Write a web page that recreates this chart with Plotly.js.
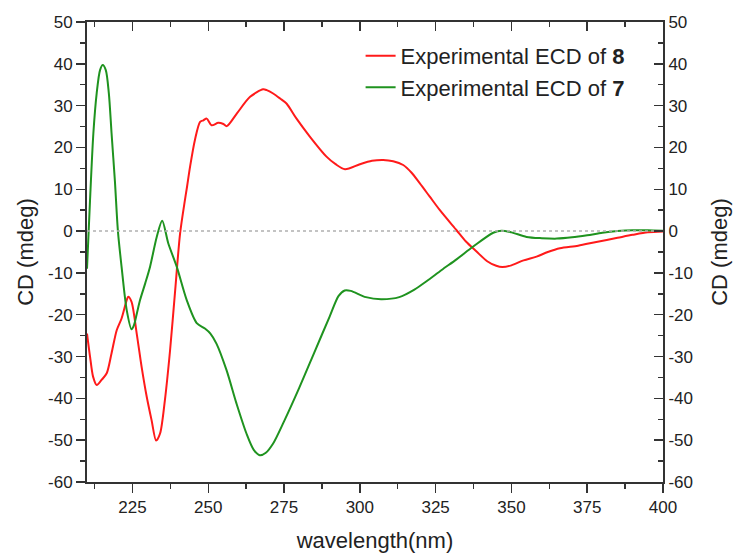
<!DOCTYPE html>
<html>
<head>
<meta charset="utf-8">
<script src="https://cdn.plot.ly/plotly-3.0.1.min.js"></script>
<style>html,body{margin:0;padding:0;background:#fff;}#chart{width:734px;height:554px;}</style>
</head>
<body>
<div id="chart"></div>
<script>
// Experimental ECD of 8 (red)
const wl8 = [210,211,212,213.2,214.8,216.5,218.1,219.8,221.4,223.1,223.6,224.7,226.4,228,229.7,231.3,232.8,234.1,235.7,237.4,239,240.7,242.3,243,244,245.6,247.3,248.4,249.5,251.1,253.3,255,256.1,259.4,263.8,268.1,269.3,271.4,273.7,275.8,279,283.5,289,292,295.1,300,304,307.7,311,314.3,317,319.8,323,326.4,331.9,335,338.5,342,345,347,350,354,358.3,362,366,372,378,385,390,395,400];
const cd8 = [-24.5,-30,-34.8,-36.8,-35.6,-34,-29.2,-23.7,-20.9,-16.5,-15.7,-16.9,-24.5,-32.4,-39.6,-45.2,-50.1,-48.4,-40.4,-28.5,-14.9,-0.6,7.4,10.6,15.4,21.8,26.1,26.5,26.9,25.3,25.9,25.6,25.1,28.1,32.1,33.9,33.7,32.9,31.7,30.5,27,22.6,17.8,16,14.8,16,16.8,17,16.7,15.8,14,11.4,8.3,5,0.2,-2.5,-4.9,-7.2,-8.3,-8.6,-8.2,-7,-6.1,-5,-4.1,-3.5,-2.6,-1.6,-0.9,-0.3,-0.1];

// Experimental ECD of 7 (green)
const wl7 = [210,211,212.1,213.2,214.3,215.2,216.2,217.2,218.1,219.2,220.2,221.4,223.1,224.7,225.5,226.5,227.5,229.2,230.8,233,234.8,236.8,239.6,242.9,246.2,248.9,250.7,252.7,256,259.3,262.6,265,267,269,271.4,275,280,285,290,293,295,297,302,307,313,318,322,327,332,337.4,344,346.8,350,355,360,365,370,375,380,385,390,395,400];
const cd7 = [-9,7.4,23.4,33,38.5,39.7,38.5,33,23.4,12,0,-8.5,-18.9,-23.5,-22.5,-19.5,-16.5,-12.5,-8.5,-1.4,2.5,-2.9,-8.5,-16.5,-22,-23.3,-24.5,-26.9,-33.2,-41.2,-48.4,-52.3,-53.6,-53,-50.8,-45.5,-37.5,-29,-20.5,-15.5,-14.2,-14.3,-15.8,-16.3,-15.8,-14,-12,-9.3,-6.7,-3.7,-0.4,0.1,-0.3,-1.4,-1.7,-1.8,-1.5,-1.0,-0.4,0,0.2,0.2,0.1];

// zero reference line (dotted)
const zeroX = [210, 400];
const zeroY = [0, 0];

const seriesNames = ['Experimental ECD of <b>8</b>', 'Experimental ECD of <b>7</b>'];
const xTicks = [225,250,275,300,325,350,375,400];
const yTicks = [-60,-50,-40,-30,-20,-10,0,10,20,30,40,50];
const yTickText = yTicks.map(v => String(v));

const FONT = 'Liberation Sans, Arial, Helvetica, sans-serif';
const AX = '#333333';

const traces = [
  {x: zeroX, y: zeroY, xaxis: 'x2', yaxis: 'y2', type: 'scatter', mode: 'lines', showlegend: false,
   hoverinfo: 'skip', line: {color: '#b0b0b0', width: 1.5, dash: 'dot'}},
  {x: wl8, y: cd8, name: seriesNames[0], type: 'scatter', mode: 'lines',
   line: {color: '#ff1a1a', width: 2, shape: 'spline', smoothing: 0.8}},
  {x: wl7, y: cd7, name: seriesNames[1], type: 'scatter', mode: 'lines',
   line: {color: '#1f931f', width: 2, shape: 'spline', smoothing: 0.8}}
];

const xr = [210, 400], yr = [-60, 50];
const common = {showline: true, linecolor: AX, linewidth: 2, tickcolor: AX, tickwidth: 1.5,
  showgrid: false, zeroline: false, tickfont: {family: FONT, size: 17, color: '#222'}};

const layout = {
  width: 734, height: 554,
  margin: {l: 87, r: 71, t: 22, b: 72},
  paper_bgcolor: '#ffffff', plot_bgcolor: '#ffffff',
  font: {family: FONT, color: '#222'},
  showlegend: true,
  legend: {x: 0.475, y: 0.972, xanchor: 'left', yanchor: 'top', bgcolor: 'rgba(0,0,0,0)',
    font: {family: FONT, size: 22, color: '#222'}, tracegroupgap: 0},
  xaxis: Object.assign({}, common, {range: xr, tickmode: 'array', tickvals: xTicks,
    ticks: 'outside', ticklen: 9,
    minor: {tickmode: 'linear', tick0: 200, dtick: 12.5, ticks: 'outside', ticklen: 5, tickcolor: AX, tickwidth: 1.5},
    title: {text: 'wavelength(nm)', font: {family: FONT, size: 22, color: '#222'}, standoff: 16}}),
  xaxis2: Object.assign({}, common, {range: xr, overlaying: 'x', anchor: 'y', side: 'top',
    tickmode: 'array', tickvals: xTicks, ticks: 'inside', ticklen: 9, showticklabels: false,
    minor: {tickmode: 'linear', tick0: 200, dtick: 12.5, ticks: 'inside', ticklen: 5, tickcolor: AX, tickwidth: 1.5}}),
  yaxis: Object.assign({}, common, {range: yr, tickmode: 'array', tickvals: yTicks, ticktext: yTickText,
    ticks: 'outside', ticklen: 9,
    minor: {tickmode: 'linear', tick0: -60, dtick: 5, ticks: 'outside', ticklen: 5, tickcolor: AX, tickwidth: 1.5},
    title: {text: 'CD (mdeg)', font: {family: FONT, size: 22, color: '#222'}, standoff: 8}}),
  yaxis2: Object.assign({}, common, {range: yr, overlaying: 'y', anchor: 'x2', side: 'right',
    tickmode: 'array', tickvals: yTicks, ticktext: yTickText, ticks: 'inside', ticklen: 9,
    minor: {tickmode: 'linear', tick0: -60, dtick: 5, ticks: 'inside', ticklen: 5, tickcolor: AX, tickwidth: 1.5},
    title: {text: 'CD (mdeg)', font: {family: FONT, size: 22, color: '#222'}, standoff: 20}})
};

Plotly.newPlot('chart', traces, layout, {displayModeBar: false, staticPlot: true});
</script>
</body>
</html>
